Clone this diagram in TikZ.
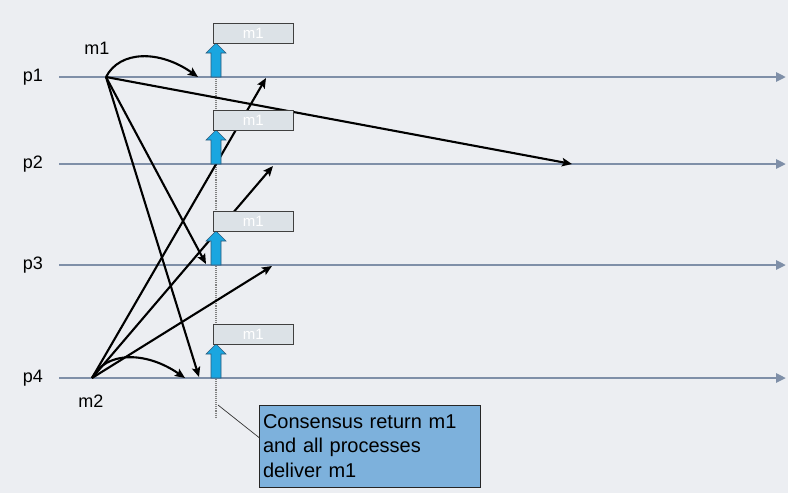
\documentclass[tikz,border=0pt]{standalone}
\usepackage{fontspec}
\setmainfont{Liberation Sans}
\usepackage{xcolor}
\usepackage{tikz}
\usetikzlibrary{
		arrows.meta,
		calc,
		positioning
	}
\definecolor{slide-bg}{HTML}{ECEEF2}
\definecolor{proc-line}{HTML}{7F8FA8}
\definecolor{deliver-blue}{HTML}{1AA6E0}
\definecolor{deliver-edge}{HTML}{2B5B7C}
\definecolor{box-fill}{HTML}{DCE2E7}
\definecolor{note-fill}{HTML}{7DB1DC}
\tikzset{%
		proclabel/.style = {
			font = \fontsize{18}{20}\selectfont,
			inner sep = 0pt
		},
		procline/.style = {
			draw = proc-line,
			line width = 2.8pt,
			-{Triangle[length=10pt,width=9pt]}
		},
		msgline/.style = {
			draw = black,
			line width = 2.1pt,
			-{Stealth[length=10pt,width=8.5pt,inset=2pt]}
		},
		deliver/.style = {
			fill = deliver-blue,
			draw = deliver-edge,
			line width = 0.6pt,
			line join = miter
		},
		msgbox/.style = {
			draw = black!75,
			fill = box-fill,
			line width = 0.8pt,
			rectangle,
			minimum width = 80pt,
			minimum height = 20pt,
			inner sep = 0pt,
			text = white,
			font = \fontsize{15}{16}\selectfont
		},
		callout/.style = {
			draw = black!85,
			fill = note-fill,
			line width = 0.8pt,
			rectangle,
			minimum width = 221pt,
			minimum height = 82pt,
			text width = 213pt,
			inner sep = 4pt,
			align = left,
			font = \fontsize{20}{24.5}\selectfont
		}
	}

\begin{document}
\begin{tikzpicture}[x=1pt, y=-1pt]
		\fill [slide-bg] (0, 0) rectangle (788, 493);
		\useasboundingbox (0, 0) rectangle (788, 493);
		% process time lines
		\foreach \p/\y in {1/77, 2/164, 3/265, 4/378} {
			\node [proclabel] (p\p) at (33, \y) {p\p};
			\coordinate (p\p s) at (59, \y);
			\coordinate (p\p e) at (786, \y);
			\draw [procline] (p\p s) -- (p\p e);
		}
		% decision instant
		\coordinate (dtop) at (216, 24);
		\coordinate (dbot) at (216, 418);
		\draw [black!50, line width = 1.1pt, densely dotted] (dtop) -- (dbot);
		% broadcasts
		\node [proclabel] (m1) at (97, 48) {m1};
		\node [proclabel] (m2) at (91, 401) {m2};
		\coordinate (m1src) at (106, 77);
		\coordinate (m2src) at (92, 378);
		\coordinate (m1to1) at (198, 77);
		\coordinate (m1to2) at (572, 164);
		\coordinate (m1to3) at (206, 264);
		\coordinate (m1to4) at (199, 377);
		\coordinate (m2to1) at (266, 78);
		\coordinate (m2to2) at (273, 166);
		\coordinate (m2to3) at (272, 266);
		\coordinate (m2to4) at (185, 378);
		\draw [msgline] (m1src) .. controls (120, 50) and (160, 50) .. (m1to1);
		\draw [msgline] (m2src) .. controls (106, 351) and (146, 351) .. (m2to4);
		\foreach \q in {2, 3, 4} {
			\draw [msgline] (m1src) -- (m1to\q);
		}
		\foreach \q in {1, 2, 3} {
			\draw [msgline] (m2src) -- (m2to\q);
		}
		% delivery of m1
		\foreach \p/\y in {1/77, 2/164, 3/265, 4/378} {
			\draw [deliver]
				(211, \y) -- (211, \y-24) -- (206, \y-24) --
				(216, \y-34) -- (226, \y-24) -- (221, \y-24) --
				(221, \y) -- cycle;
			\node [msgbox, anchor = south west] (box\p) at (213, \y-33) {m1};
		}
		% note
		\node [callout] (note) at (369.5, 446) {Consensus return m1\\and all processes\\deliver m1};
		\coordinate (notetip) at (218, 405);
		\draw [black!80, line width = 0.7pt] (notetip) -- ($(note.west)+(1, -8)$);
	\end{tikzpicture}
\end{document}
